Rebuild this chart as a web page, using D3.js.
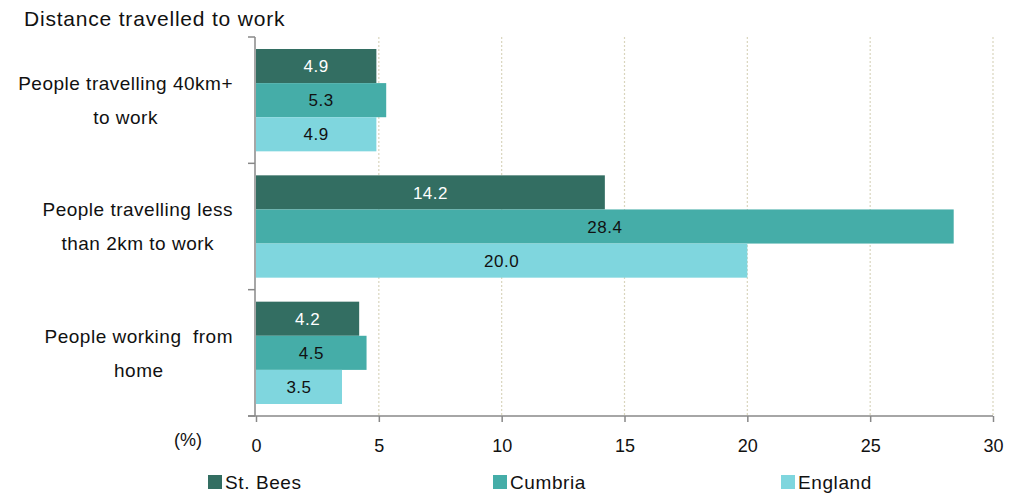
<!DOCTYPE html>
<html><head><meta charset="utf-8">
<script src="https://cdn.jsdelivr.net/npm/d3@7"></script>
<style>body{margin:0;background:#fff;} text{font-family:"Liberation Sans",Arial,sans-serif;}</style>
</head><body>
<svg id="c" width="1022" height="493"></svg>
<script>
const categories = [["People travelling 40km+","to work"],["People travelling less","than 2km to work"],["People working  from","home"]];
const seriesNames = ["St. Bees","Cumbria","England"];
const stBees = [4.9,14.2,4.2];
const cumbria = [5.3,28.4,4.5];
const england = [4.9,20.0,3.5];
const xTicks = [0,5,10,15,20,25,30];
const colors = ["#336e62","#45ada8","#7fd6de"];
const labelColors = ["#ffffff","#111111","#111111"];
const series = [stBees,cumbria,england];

(function(){
const svg = d3.select("#c");
const pL = 256, pR = 993, pT = 37, pB = 416;
const x = d3.scaleLinear().domain([0,30]).range([pL,pR]);
const y = d3.scaleBand().domain(d3.range(categories.length)).range([pT,pB]).paddingInner(0.19).paddingOuter(0.095);
const ys = d3.scaleBand().domain(d3.range(3)).range([0,y.bandwidth()]);

svg.append("text").attr("x",24).attr("y",26).attr("font-size",21).attr("letter-spacing",0.8).attr("fill","#111").text("Distance travelled to work");

// gridlines
svg.append("g").selectAll("line").data(xTicks.filter(d=>d>0)).join("line")
  .attr("x1",d=>x(d)).attr("x2",d=>x(d)).attr("y1",pT).attr("y2",pB)
  .attr("stroke","#d9d5bd").attr("stroke-width",1.2).attr("stroke-dasharray","2,2");

// bars
const g = svg.append("g");
categories.forEach((c,i)=>{
  series.forEach((s,j)=>{
    const yy = y(i)+ys(j);
    g.append("rect").attr("x",x(0)).attr("y",yy).attr("width",x(s[i])-x(0)).attr("height",ys.bandwidth()).attr("fill",colors[j]);
    g.append("text").attr("x",(x(0)+x(s[i]))/2).attr("y",yy+ys.bandwidth()/2).attr("dy","0.36em")
      .attr("text-anchor","middle").attr("font-size",17).attr("letter-spacing",0.5).attr("fill",labelColors[j]).text(s[i].toFixed(1));
  });
});

// bottom axis
const xa = svg.append("g").attr("transform",`translate(0,${pB})`)
  .call(d3.axisBottom(x).tickValues(xTicks).tickSize(6).tickPadding(17));
xa.select(".domain").attr("stroke","#888").attr("stroke-width",1.5).attr("d",`M${pL-8},0H${pR}`);
xa.selectAll(".tick line").attr("stroke","#888").attr("stroke-width",1.5);
xa.selectAll(".tick text").attr("font-size",18).attr("fill","#111").attr("font-family","Liberation Sans, Arial, sans-serif");

// left axis
const la = svg.append("g");
la.append("line").attr("x1",pL-1).attr("x2",pL-1).attr("y1",pT).attr("y2",pB).attr("stroke","#888").attr("stroke-width",1.5);
const boundaries = [pT,(y(0)+y.bandwidth()+y(1))/2,(y(1)+y.bandwidth()+y(2))/2,pB];
la.selectAll("line.t").data(boundaries).join("line").attr("class","t")
  .attr("x1",pL-8).attr("x2",pL-1).attr("y1",d=>d).attr("y2",d=>d).attr("stroke","#888").attr("stroke-width",1.5);

// category labels: centred lines, block right edge near the axis
const labelRight = 233;
categories.forEach((c,i)=>{
  const cy = y(i)+y.bandwidth()/2;
  const texts = c.map((line,k)=> svg.append("text").attr("y",cy-17+k*34).attr("dy","0.36em").attr("text-anchor","middle")
      .attr("font-size",19).attr("letter-spacing",0.5).attr("fill","#111").style("white-space","pre").text(line));
  const maxW = d3.max(texts, t=>t.node().getComputedTextLength());
  texts.forEach(t=>t.attr("x",labelRight-maxW/2));
});

svg.append("text").attr("x",188).attr("y",446).attr("text-anchor","middle").attr("font-size",18).attr("fill","#111").text("(%)");

// legend
const legX = [208,493,781];
seriesNames.forEach((n,j)=>{
  svg.append("rect").attr("x",legX[j]).attr("y",475).attr("width",14).attr("height",14).attr("fill",colors[j]);
  svg.append("text").attr("x",legX[j]+17).attr("y",489).attr("font-size",19).attr("letter-spacing",0.6).attr("fill","#111").text(n);
});
})();
</script>
</body></html>
